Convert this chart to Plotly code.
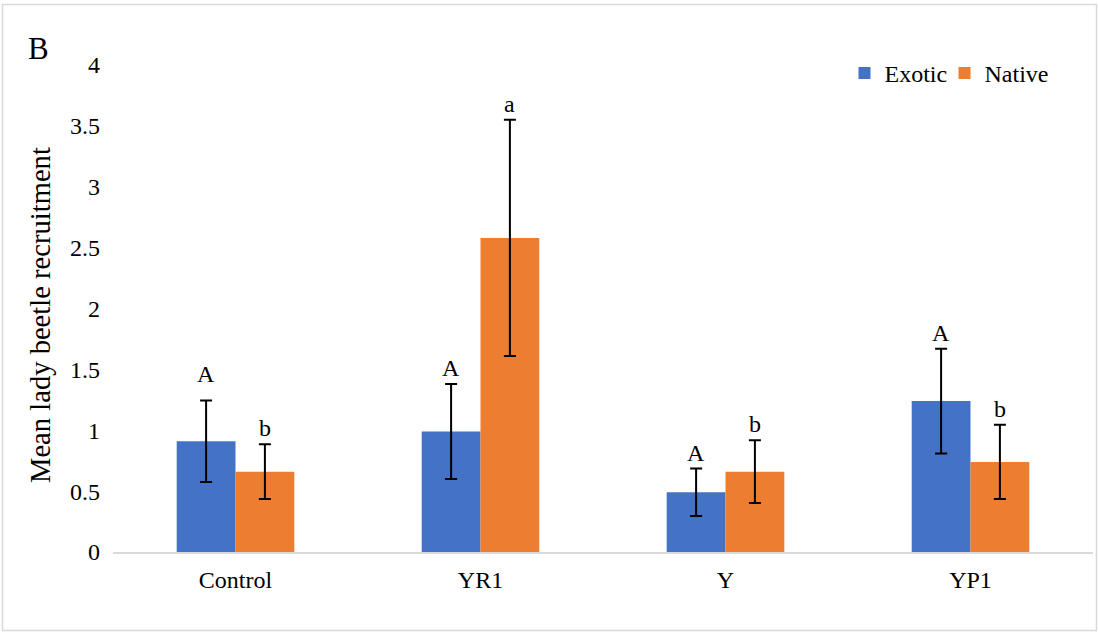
import plotly.graph_objects as go

categories = ["Control", "YR1", "Y", "YP1"]
exotic = [0.91, 0.99, 0.49, 1.24]
exotic_err = [0.335, 0.39, 0.195, 0.43]
native = [0.66, 2.58, 0.66, 0.74]
native_err = [0.225, 0.97, 0.257, 0.305]
exotic_letters = ["A", "A", "A", "A"]
native_letters = ["b", "a", "b", "b"]

W, H = 1098, 634
ML, MR, MT, MB = 113, 5, 65, 82
FONT = "Liberation Serif, Times New Roman, serif"
BLUE = "#4472C4"
ORANGE = "#ED7D31"
BARGAP = 0.52

fig = go.Figure()
fig.add_trace(go.Bar(
    name="Exotic", x=categories, y=exotic, marker_color=BLUE,
    marker_line_width=0, legend="legend",
    error_y=dict(type="data", array=exotic_err, color="black", thickness=2, width=6),
))
fig.add_trace(go.Bar(
    name="Native", x=categories, y=native, marker_color=ORANGE,
    marker_line_width=0, legend="legend2",
    error_y=dict(type="data", array=native_err, color="black", thickness=2, width=6),
))

# significance letters above error bars
off = (1 - BARGAP) / 4
for i, c in enumerate(categories):
    for letters, vals, errs, dx in ((exotic_letters, exotic, exotic_err, -off),
                                    (native_letters, native, native_err, off)):
        extra = 10 if (i == 0 and letters is exotic_letters) else 0
        fig.add_annotation(
            x=i + dx, y=vals[i] + errs[i], xref="x", yref="y",
            text=letters[i], showarrow=False, yanchor="bottom",
            yshift=1 + extra, font=dict(family=FONT, size=24, color="black"),
        )

pw = W - ML - MR
ph = H - MT - MB
# outer border of chart area
fig.add_shape(
    type="rect", xref="paper", yref="paper",
    x0=(2.5 - ML) / pw, x1=(W - 1.5 - ML) / pw,
    y0=1 + (MT - 4.5) / ph, y1=-(MB - 3.5) / ph,
    line=dict(color="#D9D9D9", width=1.5), fillcolor="rgba(0,0,0,0)", layer="below",
)

fig.add_annotation(
    text="B", xref="paper", yref="paper",
    x=(38 - ML) / pw, y=1 + (MT - 49) / ph, xanchor="center", yanchor="middle",
    showarrow=False, font=dict(family=FONT, size=31, color="black"),
)

# y-axis title
fig.add_annotation(
    text="Mean lady beetle recruitment", xref="paper", yref="paper",
    x=(40 - ML) / pw, y=1 - (315 - MT) / ph, xanchor="center", yanchor="middle",
    textangle=-90, showarrow=False, font=dict(family=FONT, size=28.6, color="black"),
)

legend_common = dict(
    orientation="h", y=1 + (MT - 73.5) / ph, yanchor="middle", xanchor="left",
    font=dict(family=FONT, size=24, color="black"),
    bgcolor="rgba(0,0,0,0)", itemwidth=30,
)

fig.update_layout(
    width=W, height=H, autosize=False,
    margin=dict(l=ML, r=MR, t=MT, b=MB),
    paper_bgcolor="white", plot_bgcolor="white",
    barmode="group", bargap=BARGAP, bargroupgap=0,
    font=dict(family=FONT, size=24, color="black"),
    showlegend=True,
    legend=dict(x=(844.5 - ML) / pw, **legend_common),
    legend2=dict(x=(944.5 - ML) / pw, **legend_common),
    xaxis=dict(
        type="category", range=[-0.5, 3.5], showline=True, linecolor="#D9D9D9",
        linewidth=1.5, showgrid=False, ticks="", ticklabelstandoff=5,
        tickfont=dict(family=FONT, size=24, color="black"),
    ),
    yaxis=dict(
        range=[0, 4], dtick=0.5, showgrid=False, zeroline=False, showline=False,
        ticks="", ticklabelstandoff=12,
        tickfont=dict(family=FONT, size=24, color="black"),
    ),
)

fig.write_html(
    "out.html",
    config={"displayModeBar": False},
    post_script="document.body.style.margin='0';document.body.style.overflow='hidden';",
)
